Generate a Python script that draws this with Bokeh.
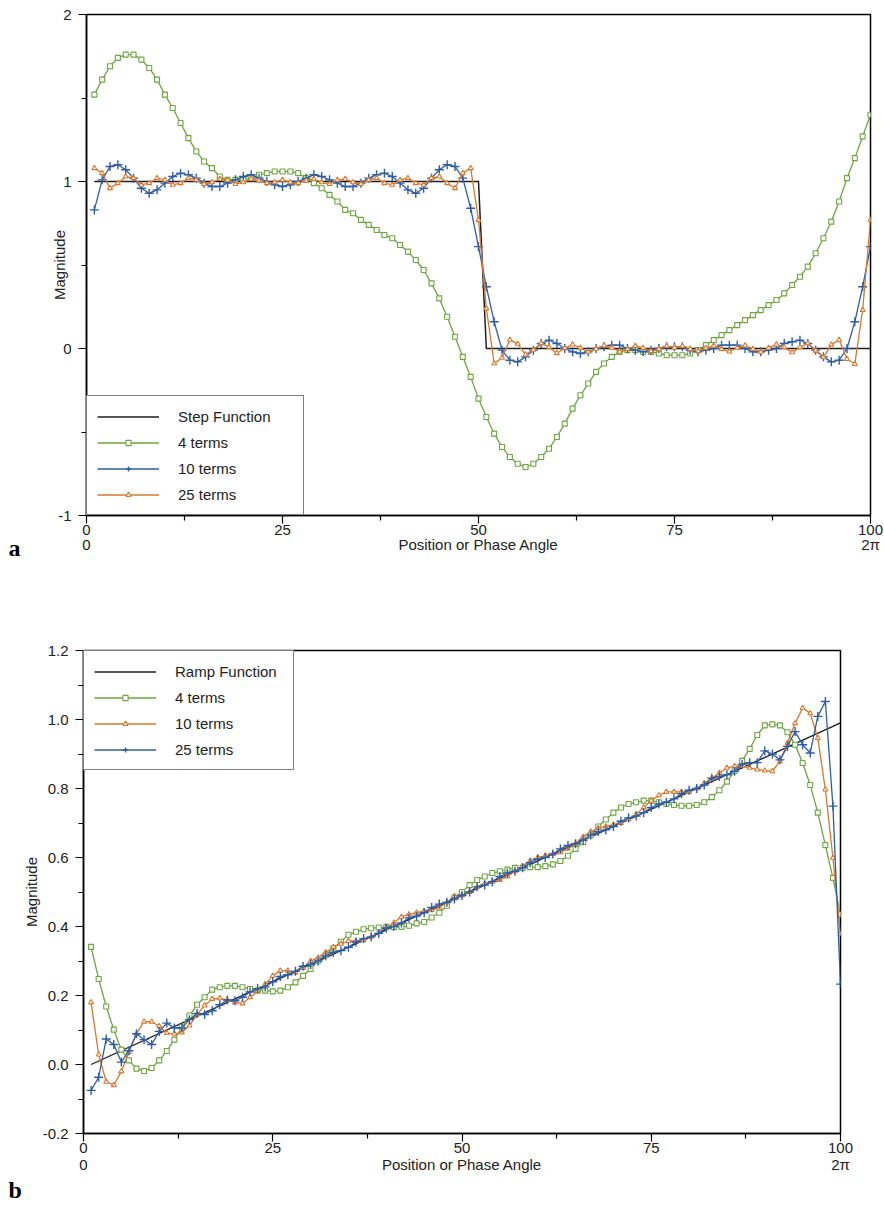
from bokeh.plotting import figure
from bokeh.models import (Range1d, FixedTicker, LinearAxis, Legend, LegendItem,
                          Title, PrintfTickFormatter)
from bokeh.embed import file_html
from bokeh.resources import INLINE

# ---------------- data: panel a (step function) ----------------
xs = list(range(1, 101))
step_x = [1, 50, 51, 100]
step_y = [1, 1, 0, 0]

a_4 = [1.52, 1.61, 1.69, 1.74, 1.76, 1.76, 1.73, 1.68, 1.61, 1.52,
       1.44, 1.35, 1.26, 1.18, 1.12, 1.08, 1.03, 1.01, 1.01, 1.01,
       1.02, 1.04, 1.05, 1.06, 1.06, 1.06, 1.05, 1.02, 0.99, 0.96,
       0.92, 0.88, 0.83, 0.81, 0.77, 0.74, 0.71, 0.68, 0.66, 0.62,
       0.58, 0.53, 0.47, 0.39, 0.30, 0.19, 0.07, -0.05, -0.17, -0.30,
       -0.41, -0.51, -0.59, -0.65, -0.69, -0.71, -0.69, -0.65, -0.60, -0.53,
       -0.45, -0.36, -0.28, -0.21, -0.14, -0.09, -0.05, -0.02, -0.01, -0.01,
       -0.02, -0.02, -0.03, -0.04, -0.04, -0.04, -0.03, -0.01, 0.02, 0.05,
       0.08, 0.11, 0.14, 0.17, 0.20, 0.23, 0.26, 0.29, 0.33, 0.38,
       0.43, 0.49, 0.57, 0.66, 0.76, 0.88, 1.02, 1.14, 1.27, 1.40]

a_10 = [0.83, 1.01, 1.09, 1.10, 1.07, 1.02, 0.96, 0.93, 0.95, 0.99,
        1.03, 1.05, 1.04, 1.02, 0.99, 0.97, 0.97, 0.99, 1.01, 1.03,
        1.04, 1.02, 1.00, 0.98, 0.97, 0.98, 1.00, 1.02, 1.04, 1.03,
        1.01, 0.99, 0.97, 0.97, 0.99, 1.02, 1.04, 1.05, 1.03, 0.99,
        0.95, 0.93, 0.96, 1.02, 1.07, 1.10, 1.09, 1.02, 0.84, 0.61,
        0.37, 0.16, -0.01, -0.07, -0.08, -0.05, -0.01, 0.03, 0.05, 0.03,
        0.00, -0.02, -0.03, -0.02, 0.00, 0.01, 0.02, 0.02, 0.00, -0.01,
        -0.02, -0.01, 0.00, 0.01, 0.01, 0.01, -0.01, -0.02, -0.01, 0.00,
        0.02, 0.02, 0.02, 0.00, -0.02, -0.02, -0.01, 0.00, 0.03, 0.04,
        0.05, 0.03, -0.01, -0.05, -0.08, -0.07, 0.00, 0.16, 0.37, 0.61]

a_25 = [1.08, 1.05, 0.96, 0.99, 1.03, 1.02, 0.98, 0.99, 1.02, 1.01,
        0.98, 0.99, 1.02, 1.01, 0.985, 0.995, 1.015, 1.01, 0.985, 0.995,
        1.015, 1.005, 0.99, 0.995, 1.01, 0.995, 0.99, 1.005, 1.015, 0.995,
        0.985, 1.01, 1.015, 0.995, 0.985, 1.01, 1.02, 0.99, 0.98, 1.01,
        1.02, 0.99, 0.98, 1.02, 1.03, 0.99, 0.96, 1.05, 1.08, 0.77,
        0.24, -0.09, -0.056, 0.052, 0.028, -0.036, -0.008, 0.032, 0.008, -0.028,
        0.002, 0.024, 0.004, -0.02, -0.002, 0.018, 0.004, -0.018, -0.004, 0.016,
        0.004, -0.016, -0.004, 0.014, 0.006, 0.014, -0.004, -0.016, 0.004, 0.016,
        -0.004, -0.018, 0.004, 0.018, -0.002, -0.02, 0.004, 0.024, 0.007, -0.023,
        0.007, 0.031, -0.013, -0.053, 0.023, 0.051, -0.063, -0.093, 0.231, 0.771]

# ---------------- data: panel b (ramp function) ----------------
ramp_x = [1, 100]
ramp_y = [0.0, 0.99]

b_4 = [0.341, 0.248, 0.168, 0.101, 0.043, 0.012, -0.012, -0.019, -0.010, 0.012,
       0.039, 0.072, 0.108, 0.142, 0.173, 0.195, 0.217, 0.224, 0.228, 0.228,
       0.224, 0.219, 0.214, 0.214, 0.212, 0.214, 0.224, 0.238, 0.257, 0.277,
       0.301, 0.318, 0.337, 0.356, 0.376, 0.385, 0.392, 0.395, 0.397, 0.399,
       0.399, 0.399, 0.402, 0.409, 0.413, 0.426, 0.440, 0.460, 0.484, 0.50,
       0.52, 0.535, 0.545, 0.555, 0.56, 0.565, 0.57, 0.57, 0.572, 0.572,
       0.575, 0.58, 0.59, 0.605, 0.625, 0.645, 0.665, 0.69, 0.71, 0.73,
       0.745, 0.755, 0.76, 0.765, 0.765, 0.76, 0.755, 0.752, 0.75, 0.75,
       0.752, 0.76, 0.775, 0.795, 0.82, 0.85, 0.88, 0.915, 0.955, 0.983,
       0.986, 0.983, 0.963, 0.927, 0.874, 0.81, 0.73, 0.636, 0.541, 0.435]

b_10 = [0.18, 0.029, -0.05, -0.06, -0.02, 0.036, 0.089, 0.124, 0.124, 0.111,
        0.091, 0.089, 0.093, 0.113, 0.145, 0.171, 0.19, 0.192, 0.187, 0.18,
        0.177, 0.195, 0.212, 0.233, 0.257, 0.272, 0.272, 0.267, 0.28, 0.30,
        0.31, 0.325, 0.34, 0.35, 0.358, 0.358, 0.36, 0.37, 0.383, 0.397,
        0.411, 0.428, 0.435, 0.44, 0.445, 0.447, 0.455, 0.47, 0.488, 0.49,
        0.50, 0.515, 0.525, 0.53, 0.535, 0.545, 0.56, 0.575, 0.59, 0.60,
        0.605, 0.61, 0.615, 0.625, 0.64, 0.66, 0.675, 0.685, 0.69, 0.695,
        0.70, 0.71, 0.725, 0.745, 0.765, 0.78, 0.79, 0.79, 0.79, 0.79,
        0.80, 0.815, 0.83, 0.845, 0.86, 0.865, 0.865, 0.86, 0.855, 0.852,
        0.85, 0.879, 0.932, 0.989, 1.033, 1.018, 0.946, 0.797, 0.599, 0.378]

b_25 = [-0.075, -0.037, 0.074, 0.058, 0.007, 0.040, 0.089, 0.072, 0.058, 0.096,
        0.12, 0.106, 0.106, 0.13, 0.148, 0.145, 0.156, 0.173, 0.187, 0.185,
        0.195, 0.21, 0.22, 0.225, 0.24, 0.255, 0.26, 0.27, 0.285, 0.29,
        0.30, 0.315, 0.325, 0.33, 0.34, 0.355, 0.365, 0.37, 0.38, 0.395,
        0.40, 0.41, 0.425, 0.43, 0.44, 0.455, 0.465, 0.47, 0.48, 0.49,
        0.50, 0.515, 0.52, 0.53, 0.545, 0.555, 0.56, 0.57, 0.585, 0.595,
        0.60, 0.61, 0.625, 0.635, 0.64, 0.65, 0.665, 0.675, 0.68, 0.69,
        0.705, 0.715, 0.72, 0.73, 0.745, 0.755, 0.76, 0.77, 0.785, 0.795,
        0.80, 0.81, 0.83, 0.835, 0.84, 0.85, 0.87, 0.875, 0.875, 0.909,
        0.90, 0.883, 0.922, 0.965, 0.927, 0.903, 1.009, 1.052, 0.749, 0.233]

x_ticks = [0, 25, 50, 75, 100]
x_minor = [12.5, 37.5, 62.5, 87.5]
x_second_row = {0: "0", 50: "Position or Phase Angle", 100: "2\u03c0"}

FONT = "Liberation Sans"
GREEN = "#6DA540"
BLUE = "#2F5DA6"
ORANGE = "#D9782E"
BLACK = "#1E1E1E"
TXT = "#222222"


def base_figure(height, y0, y1, yt, ymin, left, right, top, bottom,
                ylabel_standoff):
    p = figure(width=884, height=height, x_range=Range1d(0, 100),
               y_range=Range1d(y0, y1), output_backend="svg",
               toolbar_location=None, min_border_left=left,
               min_border_right=right, min_border_top=top,
               min_border_bottom=bottom)
    p.grid.visible = False
    p.outline_line_color = "black"
    p.outline_line_width = 1.5
    p.background_fill_color = "white"
    p.border_fill_color = "white"
    p.xaxis.ticker = FixedTicker(ticks=x_ticks, minor_ticks=x_minor)
    p.yaxis.ticker = FixedTicker(ticks=yt, minor_ticks=ymin)
    for ax in (p.xaxis, p.yaxis):
        ax.axis_line_width = 1.5
        ax.axis_line_color = "black"
        ax.major_tick_line_width = 1.2
        ax.minor_tick_line_width = 1.2
        ax.major_tick_in = 0
        ax.minor_tick_in = 0
        ax.major_tick_out = 8
        ax.minor_tick_out = 5
        ax.major_label_text_font = FONT
        ax.major_label_text_font_size = "15px"
        ax.major_label_text_color = TXT
    p.xaxis.major_label_standoff = 1
    p.yaxis.major_label_standoff = 7
    p.yaxis.axis_label = "Magnitude"
    p.yaxis.axis_label_text_font = FONT
    p.yaxis.axis_label_text_font_size = "15px"
    p.yaxis.axis_label_text_font_style = "normal"
    p.yaxis.axis_label_text_color = TXT
    p.yaxis.axis_label_standoff = ylabel_standoff
    return p


def second_row_axis(standoff):
    return LinearAxis(ticker=FixedTicker(ticks=[0, 50, 100]),
                      major_label_overrides=x_second_row,
                      axis_line_color=None, major_tick_line_color=None,
                      minor_tick_line_color=None, major_tick_out=0,
                      major_tick_in=0, major_label_standoff=standoff,
                      major_label_text_font=FONT,
                      major_label_text_font_size="15px",
                      major_label_text_color=TXT)


def panel_letter(text, offset, standoff, valign):
    return Title(text=text, align="left", offset=offset, standoff=standoff,
                 vertical_align=valign, text_font="Liberation Serif",
                 text_font_style="bold", text_font_size="24px",
                 text_color="black")


def add_series(p, x, y, color, marker, size, lw=1.3):
    ln = p.line(x, y, line_color=color, line_width=lw)
    if marker == "cross":
        sc = p.scatter(x, y, marker="cross", size=size, line_color=color,
                       line_width=1.4)
    else:
        sc = p.scatter(x, y, marker=marker, size=size, line_color=color,
                       fill_color="white", line_width=1.1)
    return [ln, sc]


def style_legend(lg, label_width):
    lg.border_line_color = "black"
    lg.border_line_width = 1.5
    lg.background_fill_color = "white"
    lg.background_fill_alpha = 1.0
    lg.label_text_font = FONT
    lg.label_text_font_size = "15px"
    lg.label_text_color = TXT
    lg.glyph_width = 62
    lg.glyph_height = 13
    lg.label_height = 20
    lg.label_width = label_width
    lg.label_standoff = 19
    lg.padding = 10
    lg.spacing = 6
    lg.margin = 0


# ---------------- panel a ----------------
pa = base_figure(596, -1, 2, [-1, 0, 1, 2], [-0.5, 0.5, 1.5], 86, 14, 14, 81,
                 -13)
pa.yaxis.formatter = PrintfTickFormatter(format="%d")
pa.add_layout(panel_letter("a", -78, -8, "middle"), "below")
pa.add_layout(second_row_axis(-22), "below")
r_step = pa.line(step_x, step_y, line_color=BLACK, line_width=1.5)
r_a4 = add_series(pa, xs, a_4, GREEN, "square", 5)
r_a10 = add_series(pa, xs, a_10, BLUE, "cross", 9)
r_a25 = add_series(pa, xs, a_25, ORANGE, "triangle", 5)
lg_a = Legend(items=[LegendItem(label="Step Function", renderers=[r_step]),
                     LegendItem(label="4 terms", renderers=r_a4),
                     LegendItem(label="10 terms", renderers=r_a10),
                     LegendItem(label="25 terms", renderers=r_a25)],
              location="bottom_left")
style_legend(lg_a, 115)
pa.add_layout(lg_a)

# ---------------- panel b ----------------
pb = base_figure(610, -0.2, 1.2,
                 [-0.2, 0.0, 0.2, 0.4, 0.6, 0.8, 1.0, 1.2],
                 [-0.1, 0.1, 0.3, 0.5, 0.7, 0.9, 1.1], 83, 44, 54, 73, 0)
pb.yaxis.formatter = PrintfTickFormatter(format="%.1f")
pb.add_layout(second_row_axis(0), "below")
pb.add_layout(panel_letter("b", -75, -1, "bottom"), "below")
r_ramp = pb.line(ramp_x, ramp_y, line_color=BLACK, line_width=1.3)
r_b4 = add_series(pb, xs, b_4, GREEN, "square", 5)
r_b10 = add_series(pb, xs, b_10, ORANGE, "triangle", 5)
r_b25 = add_series(pb, xs, b_25, BLUE, "cross", 9)
lg_b = Legend(items=[LegendItem(label="Ramp Function", renderers=[r_ramp]),
                     LegendItem(label="4 terms", renderers=r_b4),
                     LegendItem(label="10 terms", renderers=r_b10),
                     LegendItem(label="25 terms", renderers=r_b25)],
              location="top_left")
style_legend(lg_b, 108)
pb.add_layout(lg_b)

open("out.html", "w").write(file_html([pa, pb], INLINE))
